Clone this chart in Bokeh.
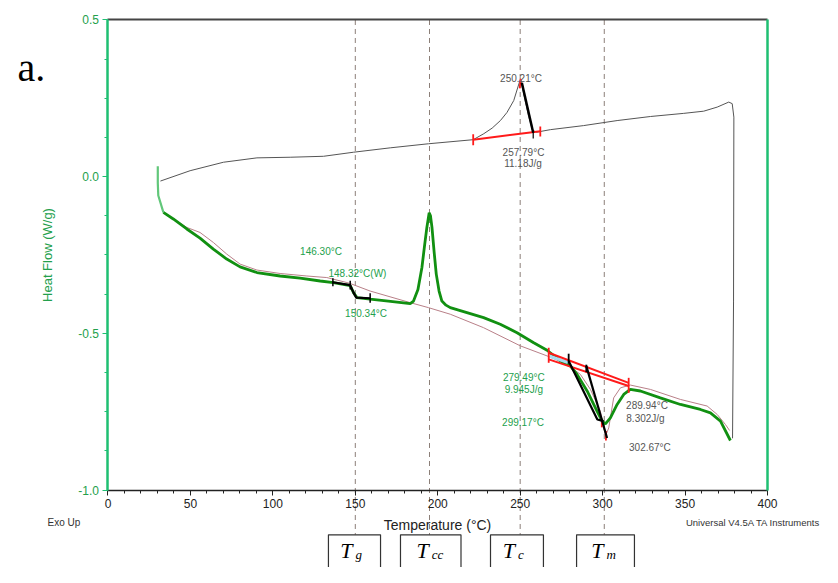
from bokeh.plotting import figure
from bokeh.models import (Range1d, LinearAxis, SingleIntervalTicker, FixedTicker,
                          PrintfTickFormatter)
from bokeh.core.properties import value
from bokeh.embed import file_html
from bokeh.resources import INLINE

# ---------------- data ----------------
# first heating (thick green)
heat1_T = [30.2, 30.2, 30.5, 33.6, 39.6, 47.8, 55.8, 63.9, 72.0, 80.1, 90.3, 104.4, 116.5,
           128.7, 136.7, 146.9, 148.9, 151.0, 159.0, 170.0, 183.3, 185.3, 188.0, 190.4,
           192.0, 193.4, 194.8, 195.6, 196.5, 197.8, 199.1, 200.8, 202.5, 205.0, 207.6,
           217.7, 227.8, 237.9, 248.1, 258.2, 266.3, 274.4, 280.4, 284.5, 290.6, 296.6,
           299.7, 301.7, 304.7, 308.8, 312.8, 316.8, 322.9, 335.0, 347.2, 359.3, 365.4,
           371.5, 377.5]
heat1_HF = [0.033, -0.02, -0.06, -0.114, -0.135, -0.167, -0.196, -0.231, -0.263, -0.288,
            -0.306, -0.317, -0.324, -0.333, -0.338, -0.348, -0.370, -0.386, -0.391, -0.397,
            -0.405, -0.397, -0.36, -0.29, -0.22, -0.162, -0.115, -0.125, -0.162, -0.24,
            -0.311, -0.365, -0.397, -0.41, -0.418, -0.434, -0.450, -0.471, -0.498, -0.530,
            -0.554, -0.588, -0.604, -0.631, -0.684, -0.748, -0.780, -0.789, -0.770, -0.727,
            -0.695, -0.679, -0.684, -0.706, -0.727, -0.743, -0.754, -0.780, -0.842]

# cooling (thin gray, top)
cool_T = [31.8, 49.8, 70.0, 90.3, 110.5, 130.7, 148.9, 171.2, 194.4, 221.5, 227.9, 233.0,
          238.0, 242.0, 246.1, 249.2, 250.2, 252.5, 255.0, 257.5, 260.0, 268.3, 288.5, 308.8,
          329.0, 349.2, 361.3, 369.5, 376.5, 378.6, 379.6, 379.4, 378.8]
cool_HF = [-0.014, 0.019, 0.046, 0.060, 0.062, 0.065, 0.078, 0.092, 0.105, 0.118, 0.137,
           0.155, 0.179, 0.205, 0.243, 0.296, 0.312, 0.255, 0.195, 0.148, 0.142, 0.150,
           0.163, 0.179, 0.192, 0.202, 0.209, 0.222, 0.238, 0.233, 0.190, -0.397, -0.835]

# second heating (thin pinkish)
heat2_T = [33.6, 47.8, 55.8, 63.9, 72.0, 80.1, 90.3, 104.4, 120.6, 132.7, 144.9, 146.9,
           159.0, 183.3, 194.4, 207.6, 227.8, 250.1, 266.3, 278.4, 286.5, 292.6, 298.6,
           301.7, 303.7, 306.7, 310.8, 316.8, 329.0, 347.2, 363.4, 369.5, 374.5, 377.0]
heat2_HF = [-0.114, -0.162, -0.178, -0.210, -0.247, -0.279, -0.298, -0.309, -0.317, -0.322,
            -0.338, -0.341, -0.365, -0.402, -0.418, -0.439, -0.482, -0.540, -0.572, -0.599,
            -0.631, -0.679, -0.748, -0.828, -0.802, -0.706, -0.674, -0.665, -0.679, -0.711,
            -0.732, -0.759, -0.791, -0.81]

# transition markers (dashed lines and boxes)
trans_T = [150.0, 195.0, 250.0, 301.0]
box_left = [133.7, 177.4, 232.0, 284.2]
box_right = [165.3, 214.1, 264.1, 319.3]
box_sub = ["g", "cc", "c", "m"]

# analysis annotations
tg_x = [136.4, 146.9, 148.9, 150.6, 159.0]
tg_y = [-0.337, -0.346, -0.370, -0.386, -0.388]
tg_tick_x = [136.4, 146.9, 159.0]
tg_tick_y0 = [-0.324, -0.332, -0.372]
tg_tick_y1 = [-0.350, -0.360, -0.402]

exo_base_x = [221.5, 262.2]
exo_base_y = [0.118, 0.145]
exo_bar_x = [221.5, 262.2]
exo_bar_y0 = [0.100, 0.128]
exo_bar_y1 = [0.135, 0.160]
exo_drop_x = [251.0, 257.9]
exo_drop_y = [0.300, 0.140]

melt_base_x0 = [267.3, 267.3]
melt_base_y0 = [-0.562, -0.583]
melt_base_x1 = [315.8, 315.8]
melt_base_y1 = [-0.658, -0.668]
melt_bar_x = [267.3, 315.8, 299.5, 302.0]
melt_bar_y0 = [-0.546, -0.642, -0.780, -0.812]
melt_bar_y1 = [-0.594, -0.690, -0.800, -0.842]
meltA_x = [279.4, 296.8, 300.6]
meltA_y = [-0.588, -0.775, -0.780]
meltB_x = [290.1, 302.7]
meltB_y = [-0.604, -0.834]
melt_tick_x = [279.4, 290.1]
melt_tick_y0 = [-0.565, -0.600]
melt_tick_y1 = [-0.597, -0.624]

gray_labels = ["250.21°C", "257.79°C", "11.18J/g", "289.94°C", "8.302J/g", "302.67°C"]
gray_lx = [250.5, 252.0, 251.7, 326.9, 326.0, 328.7]
gray_ly = [0.313, 0.077, 0.042, -0.730, -0.772, -0.864]
green_labels = ["146.30°C", "148.32°C(W)", "150.34°C", "279.49°C", "9.945J/g", "299.17°C"]
green_lx = [129.2, 151.3, 156.5, 252.2, 252.2, 251.7]
green_ly = [-0.238, -0.309, -0.437, -0.641, -0.679, -0.784]

# ---------------- figure ----------------
GREEN_AX = "#1fbf72"
GREEN_TX = "#23a04c"
GREEN_LN = "#119011"

p = figure(width=822, height=567, x_range=Range1d(-65.20, 433.36),
           y_range=Range1d(-1.2473, 0.5622), output_backend="svg",
           toolbar_location=None, x_axis_type=None, y_axis_type=None, min_border=0)
p.outline_line_color = None
p.background_fill_color = "white"
p.border_fill_color = "white"

xaxis = LinearAxis(fixed_location=-1.0, bounds=(0, 400),
                   ticker=SingleIntervalTicker(interval=50, num_minor_ticks=5),
                   axis_label="Temperature (°C)")
xaxis.axis_line_color = "#222222"
xaxis.axis_line_width = 1.5
xaxis.major_tick_line_color = "#222222"
xaxis.minor_tick_line_color = "#222222"
xaxis.major_tick_out = 5
xaxis.major_tick_in = 0
xaxis.minor_tick_out = 3
xaxis.minor_tick_in = 0
xaxis.major_label_text_font = "Liberation Sans"
xaxis.major_label_text_font_size = "12px"
xaxis.major_label_text_color = "#222222"
xaxis.major_label_standoff = 4
xaxis.axis_label_text_font = "Liberation Sans"
xaxis.axis_label_text_font_size = "14px"
xaxis.axis_label_text_font_style = "normal"
xaxis.axis_label_text_color = "#222222"
xaxis.axis_label_standoff = 5
p.add_layout(xaxis, "below")

yaxis = LinearAxis(fixed_location=0, bounds=(-1.0, 0.5),
                   ticker=SingleIntervalTicker(interval=0.5, num_minor_ticks=4),
                   formatter=PrintfTickFormatter(format="%.1f"),
                   axis_label="Heat Flow (W/g)")
yaxis.axis_line_color = GREEN_AX
yaxis.axis_line_width = 2.5
yaxis.major_tick_line_color = GREEN_AX
yaxis.minor_tick_line_color = GREEN_AX
yaxis.major_tick_out = 5
yaxis.major_tick_in = 0
yaxis.minor_tick_out = 3
yaxis.minor_tick_in = 0
yaxis.major_label_text_font = "Liberation Sans"
yaxis.major_label_text_font_size = "12px"
yaxis.major_label_text_color = GREEN_TX
yaxis.major_label_standoff = 4
yaxis.axis_label_text_font = "Liberation Sans"
yaxis.axis_label_text_font_size = "13px"
yaxis.axis_label_text_font_style = "normal"
yaxis.axis_label_text_color = GREEN_TX
yaxis.axis_label_standoff = 20
p.add_layout(yaxis, "left")

top_axis = LinearAxis(fixed_location=0.5, bounds=(0, 400), ticker=FixedTicker(ticks=[]))
top_axis.axis_line_color = "#444444"
top_axis.axis_line_width = 2
p.add_layout(top_axis, "above")

right_axis = LinearAxis(fixed_location=400, bounds=(-1.0, 0.5), ticker=FixedTicker(ticks=[]))
right_axis.axis_line_color = GREEN_AX
right_axis.axis_line_width = 2.5
p.add_layout(right_axis, "right")

BOX_TOP = -1.1430

# dashed transition lines
p.segment(x0=trans_T, y0=[0.5] * 4, x1=trans_T, y1=[BOX_TOP] * 4,
          line_color="#8c7f78", line_width=1, line_dash="5 4")

# curves
p.line(cool_T, cool_HF, line_color="#555555", line_width=1)
p.line(heat2_T, heat2_HF, line_color="#b98088", line_width=1)
p.line(heat1_T[3:], heat1_HF[3:], line_color=GREEN_LN, line_width=2.8)
p.line(heat1_T[:4], heat1_HF[:4], line_color="#62c77a", line_width=2.2)

# Tg analysis
p.line(tg_x, tg_y, line_color="black", line_width=2.2)
p.segment(x0=tg_tick_x, y0=tg_tick_y0, x1=tg_tick_x, y1=tg_tick_y1,
          line_color="black", line_width=1.5)

# crystallization (cooling) analysis
p.line(exo_base_x, exo_base_y, line_color="#ff1a1a", line_width=2)
p.segment(x0=exo_bar_x, y0=exo_bar_y0, x1=exo_bar_x, y1=exo_bar_y1,
          line_color="#ff1a1a", line_width=1.8)
p.segment(x0=[249.7], y0=[0.282], x1=[250.3], y1=[0.312], line_color="#ff1a1a", line_width=1.8)
p.line(exo_drop_x, exo_drop_y, line_color="black", line_width=2.5)
p.segment(x0=[257.9], y0=[0.145], x1=[257.9], y1=[0.122], line_color="black", line_width=1.2)

# melting analysis
p.line([268.0, 279.0], [-0.573, -0.593], line_color="#a6dcf2", line_width=3)
p.segment(x0=melt_base_x0, y0=melt_base_y0, x1=melt_base_x1, y1=melt_base_y1,
          line_color="#ff1a1a", line_width=2)
p.segment(x0=melt_bar_x, y0=melt_bar_y0, x1=melt_bar_x, y1=melt_bar_y1,
          line_color="#ff1a1a", line_width=1.8)
p.line(meltA_x, meltA_y, line_color="black", line_width=2.2)
p.line(meltB_x, meltB_y, line_color="black", line_width=2.2)
p.segment(x0=melt_tick_x, y0=melt_tick_y0, x1=melt_tick_x, y1=melt_tick_y1,
          line_color="black", line_width=1.8)

# labels
p.text(x=gray_lx, y=gray_ly, text=gray_labels, text_align="center", text_baseline="middle",
       text_font=value("Liberation Sans"), text_font_size="10px", text_color="#555555")
p.text(x=green_lx, y=green_ly, text=green_labels, text_align="center", text_baseline="middle",
       text_font=value("Liberation Sans"), text_font_size="10px", text_color=GREEN_TX)

p.text(x=[-54.9], y=[0.3485], text=["a."], text_font=value("Liberation Serif"),
       text_font_size="40px", text_color="black", text_baseline="alphabetic")
p.text(x=[-36.7], y=[-1.1036], text=["Exo Up"], text_font=value("Liberation Sans"),
       text_font_size="10px", text_color="#333333", text_baseline="middle")
p.text(x=[432.1], y=[-1.1036], text=["Universal V4.5A TA Instruments"],
       text_font=value("Liberation Sans"), text_font_size="9.5px", text_color="#333333",
       text_baseline="middle", text_align="right")

# boxes with transition symbols
p.quad(left=box_left, right=box_right, top=[BOX_TOP] * 4, bottom=[-1.35] * 4,
       fill_color="white", line_color="#333333", line_width=1.2)
centers = [(l + r) / 2 for l, r in zip(box_left, box_right)]
p.text(x=[c - 1.2 for c in centers], y=[-1.1930] * 4, text=["T"] * 4,
       text_align="right", text_baseline="alphabetic", text_font=value("Liberation Serif"),
       text_font_style="italic", text_font_size="22px", text_color="black")
p.text(x=[c + 0.6 for c in centers], y=[-1.2058] * 4, text=box_sub,
       text_align="left", text_baseline="alphabetic", text_font=value("Liberation Serif"),
       text_font_style="italic", text_font_size="13px", text_color="black")

open("out.html", "w").write(file_html(p, INLINE))
